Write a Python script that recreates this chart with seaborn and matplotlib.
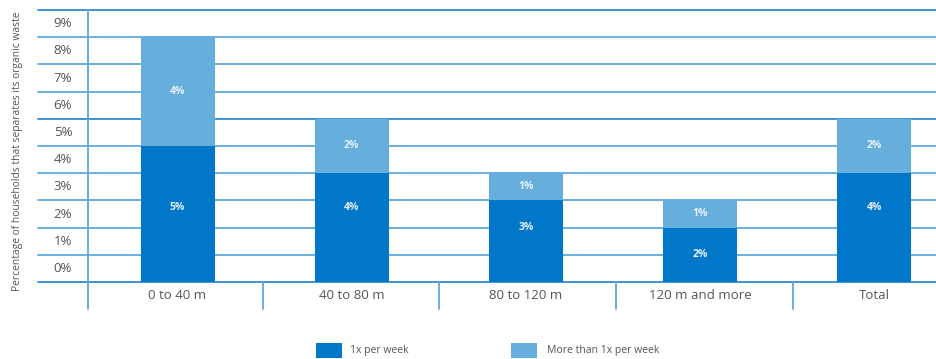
import matplotlib
matplotlib.use("Agg")
import matplotlib.pyplot as plt
import matplotlib.transforms as mtransforms
from matplotlib.patches import Rectangle
import seaborn as sns
import pandas as pd

categories = ["0 to 40 m", "40 to 80 m", "80 to 120 m", "120 m and more", "Total"]
once_per_week = [5, 4, 3, 2, 4]
more_than_once = [4, 2, 1, 1, 2]
y_ticks = list(range(0, 10))
y_tick_labels = [f"{v}%" for v in y_ticks]
series_names = ["1x per week", "More than 1x per week"]
y_title = "Percentage of households that separates its organic waste"

sns.set_theme(style="white")
plt.rcParams['font.family'] = ['Open Sans', 'DejaVu Sans']

W, H = 936, 359
fig = plt.figure(figsize=(W / 100, H / 100), dpi=100)
left_px, right_px, top_px, bottom_px = 88, 936, 10, 282
ax = fig.add_axes([left_px / W, 1 - bottom_px / H, (right_px - left_px) / W, (bottom_px - top_px) / H])

df = pd.DataFrame({"category": categories, "low": once_per_week, "high": more_than_once})
df["total"] = df["low"] + df["high"]

dark = "#0077C8"
light = "#66AEDC"
grid_c = "#5FA8DC"
grid_dark = "#2E8BCF"
text_c = "#555555"

sns.barplot(data=df, x="category", y="total", color=light, width=0.425, saturation=1,
            ax=ax, zorder=3, linewidth=0)
sns.barplot(data=df, x="category", y="low", color=dark, width=0.425, saturation=1,
            ax=ax, zorder=3, linewidth=0)

ax.set_xlim(-0.514, 4.354)
ax.set_ylim(0, 10)
for s in ax.spines.values():
    s.set_visible(False)
ax.set_xticks([])
ax.set_yticks([])
ax.set_xlabel("")
ax.set_ylabel("")
ax.patch.set_alpha(0)

blend = mtransforms.blended_transform_factory(ax.transAxes, ax.transData)
for v in range(0, 11):
    c = grid_dark if v in (0, 6, 10) else grid_c
    ax.plot([-0.059, 1], [v, v], transform=blend, clip_on=False, color=c, lw=1.3, zorder=1)

# left axis line and category separators
ax.plot([0, 0], [-1, 10], transform=blend, clip_on=False, color=grid_c, lw=1.3, zorder=1)
for xs in [0.490, 1.501, 2.517, 3.533]:
    ax.plot([xs, xs], [-1, 0], clip_on=False, color=grid_c, lw=1.3, zorder=1)

# y tick labels (between gridlines)
for v, lab in zip(y_ticks, y_tick_labels):
    ax.text(-25 / 848, v + 0.5, lab, transform=blend, ha="center", va="center",
            fontsize=9.5, color=text_c)

# category labels
for i, cat in enumerate(categories):
    ax.text(i, -0.5, cat, ha="center", va="center", fontsize=9.5, color=text_c, clip_on=False)

# bar value labels
for i, (lo, hi) in enumerate(zip(once_per_week, more_than_once)):
    ax.text(i, min(lo - 1, 2.75), f"{lo}%", ha="center", va="center", fontsize=7.5,
            color="#E6F1FA", fontweight="bold", zorder=5)
    ax.text(i, lo + hi / 2, f"{hi}%", ha="center", va="center", fontsize=7.5,
            color="#E6F1FA", fontweight="bold", zorder=5)

fig.text(18 / W, 1 - 151 / H, y_title, rotation=90, ha="center", va="center",
         fontsize=7.4, color=text_c)

# legend
for (x0, x1, tx), col, name in zip([(316, 342, 350), (511, 537, 547)], [dark, light], series_names):
    fig.add_artist(Rectangle((x0 / W, 1 - 358 / H), (x1 - x0) / W, 15 / H,
                             transform=fig.transFigure, color=col, lw=0))
    fig.text(tx / W, 1 - 351 / H, name, ha="left", va="center", fontsize=7.5, color=text_c)

fig.savefig("out.png", dpi=100)
